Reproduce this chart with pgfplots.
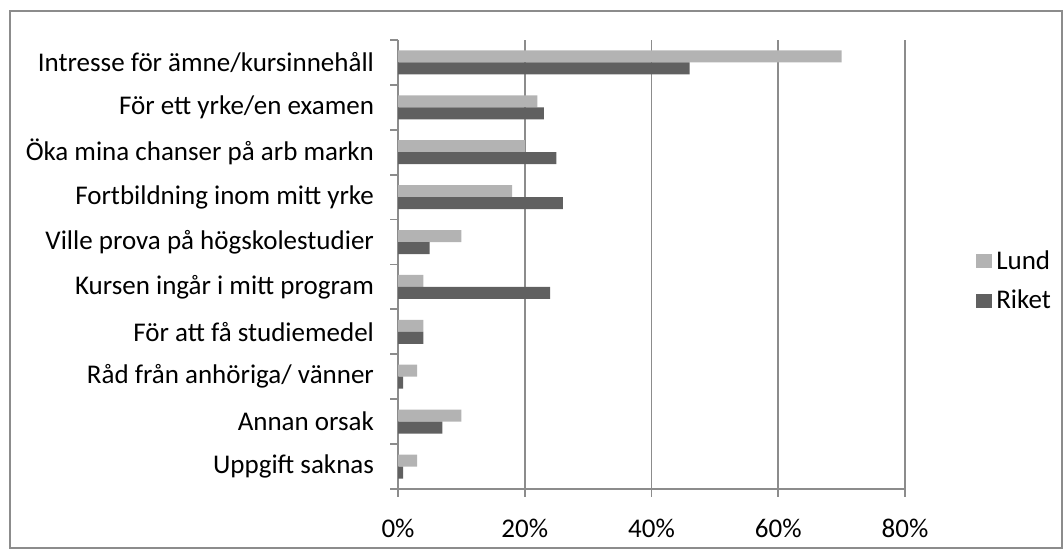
\documentclass[border=0pt]{standalone}
\usepackage{fontspec}
\setmainfont{Carlito}
\usepackage{pgfplots}
\pgfplotsset{compat=1.18}
\definecolor{lund}{HTML}{B3B3B3}
\definecolor{riket}{HTML}{606060}
\definecolor{gridc}{HTML}{8C8C8C}
\begin{document}
\begin{tikzpicture}
\useasboundingbox (0pt,0pt) rectangle (531.5pt,274.5pt);
\draw[gridc, line width=0.8pt] (5pt,0.6pt) rectangle (530.9pt,269pt);
\begin{axis}[
  at={(199pt,30pt)}, anchor=south west,
  scale only axis, width=253.5pt, height=224.5pt,
  xbar, bar width=6pt,
  xmin=0, xmax=80, ymin=-0.5, ymax=9.5,
  axis lines*=left,
  axis line style={gridc, line width=0.9pt},
  xmajorgrids, grid style={gridc, line width=0.9pt},
  tick style={gridc, line width=0.9pt},
  tick align=outside, major tick length=4pt,
  xtick={0,20,40,60,80},
  xticklabel={\pgfmathprintnumber{\tick}\%},
  /pgf/number format/assume math mode=true,
  ytick={-0.5,0.5,...,9.5},
  yticklabels={Uppgift saknas, Annan orsak, Råd från anhöriga/ vänner, För att få studiemedel, Kursen ingår i mitt program, Ville prova på högskolestudier, Fortbildning inom mitt yrke, Öka mina chanser på arb markn, För ett yrke/en examen, Intresse för ämne/kursinnehåll, {}},
  yticklabel style={yshift=11.225pt, xshift=-4.5pt},
  tick label style={font=\fontsize{13.5}{15}\selectfont, text=black},
  xticklabel style={yshift=-7.5pt},
  legend style={at={(1.128,0.463)}, anchor=west, draw=none, fill=none,
    font=\fontsize{13.5}{15}\selectfont, row sep=5pt},
  legend cell align=left,
  legend image code/.code={\fill[#1] (0pt,-3.5pt) rectangle (8pt,3.5pt);},
]
\addplot[fill=lund, draw=none, bar shift=3pt] coordinates {
(70,9) (22,8) (20,7) (18,6) (10,5) (4,4) (4,3) (3,2) (10,1) (3,0)};
\addplot[fill=riket, draw=none, bar shift=-3pt] coordinates {
(46,9) (23,8) (25,7) (26,6) (5,5) (24,4) (4,3) (0.8,2) (7,1) (0.8,0)};
\legend{Lund, Riket}
\end{axis}
\end{tikzpicture}
\end{document}
